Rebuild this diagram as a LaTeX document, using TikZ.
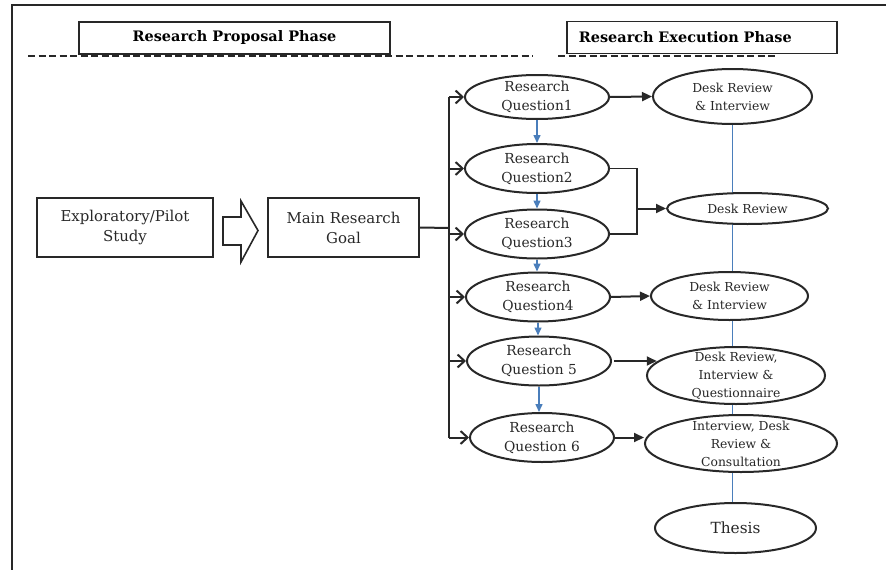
\documentclass[tikz,border=0pt]{standalone}
\usepackage{fontspec}
\setmainfont[Scale=0.83]{DejaVu Serif}
\usetikzlibrary{shapes.geometric,arrows.meta,backgrounds}
\definecolor{inkgray}{RGB}{40,40,40}
\definecolor{linkblue}{RGB}{74,126,187}
\tikzset{
  frameline/.style={draw=inkgray,line width=2pt},
  phaseline/.style={draw=inkgray,line width=2pt,dash pattern=on 7pt off 3.5pt},
  phasebox/.style={draw=inkgray,fill=white,line width=1.8pt,minimum height=32,inner ysep=0pt,text=black,font=\fontsize{17.4}{20}\selectfont\bfseries},
  stagebox/.style={draw=inkgray,line width=1.8pt,minimum height=59,inner sep=0pt,align=center,text=inkgray,font=\fontsize{18}{20}\selectfont},
  rq/.style={ellipse,draw=inkgray,fill=white,line width=2pt,inner xsep=0pt,inner ysep=-14pt,minimum width=144,minimum height=49,align=center,text=inkgray,font=\fontsize{16.6}{19}\selectfont},
  method/.style={ellipse,draw=inkgray,fill=white,line width=2pt,inner xsep=0pt,inner ysep=-16pt,align=center,text=inkgray,font=\fontsize{14.9}{18}\selectfont},
  wire/.style={draw=inkgray,line width=2pt},
  flow/.style={draw=linkblue,line width=1.5pt},
}
\begin{document}
\begin{tikzpicture}[x=1pt,y=-1pt]
    \useasboundingbox (0,0) rectangle (886,570);
    \draw[frameline] (12,570) -- (12,5) -- (886,5);
    \draw[phaseline] (28,56) -- (533,56);
    \draw[phaseline] (558,56) -- (776,56);
    \node[phasebox,minimum width=311] (proposal) at (234.5,38) {Research Proposal Phase};
    \node[phasebox,anchor=west,text width=246,inner xsep=12pt,align=left] (execution) at (566,37.5) {Research Execution Phase};

    \node[stagebox,minimum width=176] (pilot) at (125,227.5) {Exploratory/Pilot\\Study};
    \node[stagebox,minimum width=151] (goal) at (343.5,227.5) {Main Research\\Goal};
    \draw[draw=inkgray,line width=1.6pt,line join=miter] (223,217) -- (241,217) -- (241,201) -- (258,230.5) -- (241,262) -- (241,245) -- (223,245) -- cycle;

    \node[rq,minimum height=44] (rq1) at (537,97) {Research\\Question1};
    \node[rq] (rq2) at (537,168.5) {Research\\Question2};
    \node[rq] (rq3) at (537,234) {Research\\Question3};
    \node[rq] (rq4) at (538,297) {Research\\Question4};
    \node[rq] (rq5) at (539,361) {Research\\Question 5};
    \node[rq] (rq6) at (542,437.5) {Research\\Question 6};

    \node[method,minimum width=159,minimum height=55] (dri1) at (732.5,96.5) {Desk Review\\\& Interview};
    \node[method,minimum width=161,minimum height=31] (dr) at (747.5,208.5) {Desk Review};
    \node[method,minimum width=157,minimum height=48] (dri2) at (729.5,296) {Desk Review\\\& Interview};
    \node[method,minimum width=178,minimum height=57] (driq) at (736,375.5) {Desk Review,\\Interview \&\\Questionnaire};
    \node[method,minimum width=192,minimum height=57] (idrc) at (741,443.5) {Interview, Desk\\Review \&\\Consultation};
    \node[method,minimum width=161,minimum height=50,font=\fontsize{18.5}{20}\selectfont] (thesis) at (735.5,528) {Thesis};

    \begin{scope}[on background layer]
      \draw[flow] (dri1) -- (dri1 |- thesis);
    \end{scope}

    \coordinate (bus) at (449,228);
    \draw[wire] (goal.east) -- (bus);
    \draw[wire] (bus |- rq1.west) -- (bus |- rq6.west);
    \foreach \k in {1,...,6} {
      \draw[wire,-{Straight Barb[length=7pt,width=13pt,line width=2pt]}] (bus |- rq\k.west) -- (rq\k.west);
    }
    \foreach \k/\n in {1/2,2/3,3/4,4/5,5/6} {
      \draw[flow,-{Triangle[length=8pt,width=7pt]}] (rq\k.south) -- (rq\k.south |- rq\n.north);
    }

    \coordinate (join) at (637,208.5);
    \draw[wire,line width=1.6pt] (rq2.east) -| (join) |- (rq3.east);
    \draw[wire,-{Triangle[length=10pt,width=9pt]}] (join) -- (dr.west);
    \draw[wire,-{Triangle[length=10pt,width=9pt]}] (rq1.east) -- (dri1.west);
    \draw[wire,-{Triangle[length=10pt,width=9pt]}] (rq4.east) -- (dri2.west);
    \draw[wire,-{Triangle[length=10pt,width=9pt]}] ([xshift=2pt]rq5.east) -- (rq5.east -| driq.170);
    \draw[wire,-{Triangle[length=10pt,width=9pt]}] (rq6.east) -- (rq6.east -| idrc.west);
\end{tikzpicture}
\end{document}
